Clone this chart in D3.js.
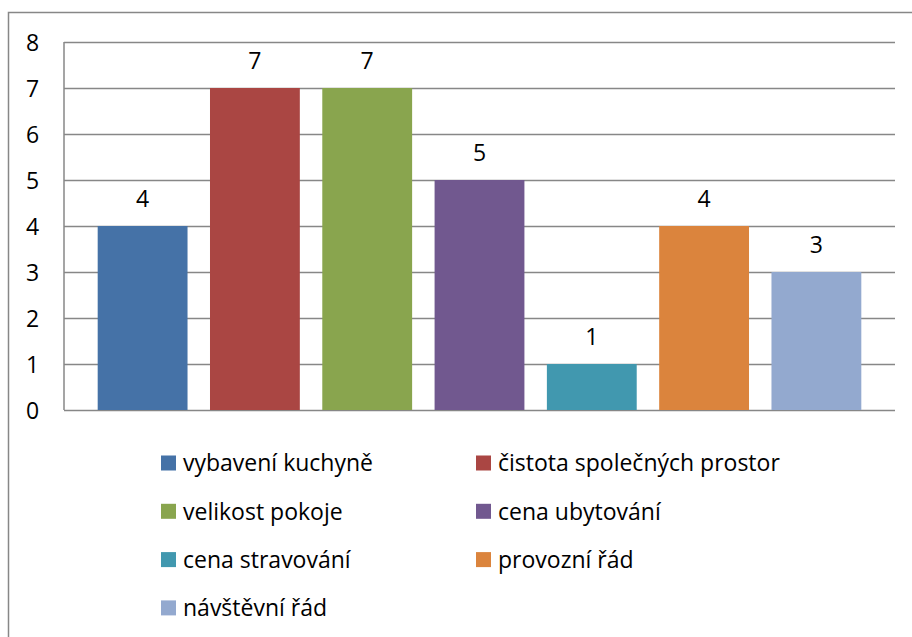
<!DOCTYPE html>
<html>
<head>
<meta charset="utf-8">
<script src="https://cdn.jsdelivr.net/npm/d3@7"></script>
<style>
  html, body { margin: 0; padding: 0; background: #fff; }
  svg text { font-family: "Open Sans", "Noto Sans", sans-serif; fill: #000; }
</style>
</head>
<body>
<div id="chart"></div>
<script>
// Data
const categories = ['vybavení kuchyně', 'čistota společných prostor', 'velikost pokoje',
  'cena ubytování', 'cena stravování', 'provozní řád', 'návštěvní řád'];
const values = [4, 7, 7, 5, 1, 4, 3];
const colors = ['#4572A7', '#AA4643', '#89A54E', '#71588F', '#4198AF', '#DB843D', '#93A9CF'];
const yTicks = [0, 1, 2, 3, 4, 5, 6, 7, 8];

const W = 912, H = 637;
const PLOT = { left: 64, right: 895, top: 42, bottom: 410 };
const GRID = '#878787';
const FONT = '23px';

const svg = d3.select('#chart').append('svg')
  .attr('width', W).attr('height', H);

// outer chart frame (runs off right/bottom edge)
svg.append('rect')
  .attr('x', 8.5).attr('y', 12.5)
  .attr('width', W + 20).attr('height', H + 20)
  .attr('fill', 'none').attr('stroke', GRID).attr('stroke-width', 1.5);

const y = d3.scaleLinear().domain([0, 8]).range([PLOT.bottom, PLOT.top]);
const x = d3.scaleBand().domain(categories)
  .range([PLOT.left, PLOT.right])
  .paddingInner(0.2).paddingOuter(0.3);

// gridlines + y labels
const yAxis = svg.append('g').attr('class', 'axis axis--y')
  .attr('transform', `translate(${PLOT.left},0)`)
  .call(d3.axisLeft(y).tickValues(yTicks).tickSize(-(PLOT.right - PLOT.left)).tickPadding(31.5));
yAxis.select('.domain').remove();
yAxis.selectAll('.tick line').attr('stroke', GRID).attr('stroke-width', 1.5);
yAxis.selectAll('.tick text')
  .attr('text-anchor', 'middle')
  .style('font-size', FONT)
  .style('font-family', '"Open Sans", sans-serif')
  .attr('fill', '#000')
  .attr('dy', '0.36em');

// left axis line
svg.append('line')
  .attr('x1', PLOT.left).attr('x2', PLOT.left)
  .attr('y1', y(8)).attr('y2', y(0))
  .attr('stroke', GRID).attr('stroke-width', 1.5);

// bars
svg.selectAll('.bar')
  .data(categories)
  .join('rect')
    .attr('class', 'bar')
    .attr('x', d => x(d))
    .attr('y', (d, i) => y(values[i]))
    .attr('width', x.bandwidth())
    .attr('height', (d, i) => y(0) - y(values[i]))
    .attr('fill', (d, i) => colors[i]);

// value labels
svg.selectAll('.bar-label')
  .data(categories)
  .join('text')
    .attr('class', 'bar-label')
    .attr('x', d => x(d) + x.bandwidth() / 2)
    .attr('y', (d, i) => y(values[i]) - 19)
    .attr('text-anchor', 'middle')
    .style('font-size', FONT)
    .text((d, i) => values[i]);

// legend, two columns
const legendCols = [161, 476];
const legendRow0 = 463, legendStep = 48.3;
const leg = svg.selectAll('.legend-item')
  .data(categories)
  .join('g')
    .attr('class', 'legend-item')
    .attr('transform', (d, i) => `translate(${legendCols[i % 2]},${legendRow0 + Math.floor(i / 2) * legendStep})`);
leg.append('rect')
  .attr('x', 0).attr('y', -7.5)
  .attr('width', 15).attr('height', 15)
  .attr('fill', (d, i) => colors[i]);
leg.append('text')
  .attr('x', 22).attr('dy', '0.36em')
  .style('font-size', FONT)
  .text(d => d);
</script>
</body>
</html>
